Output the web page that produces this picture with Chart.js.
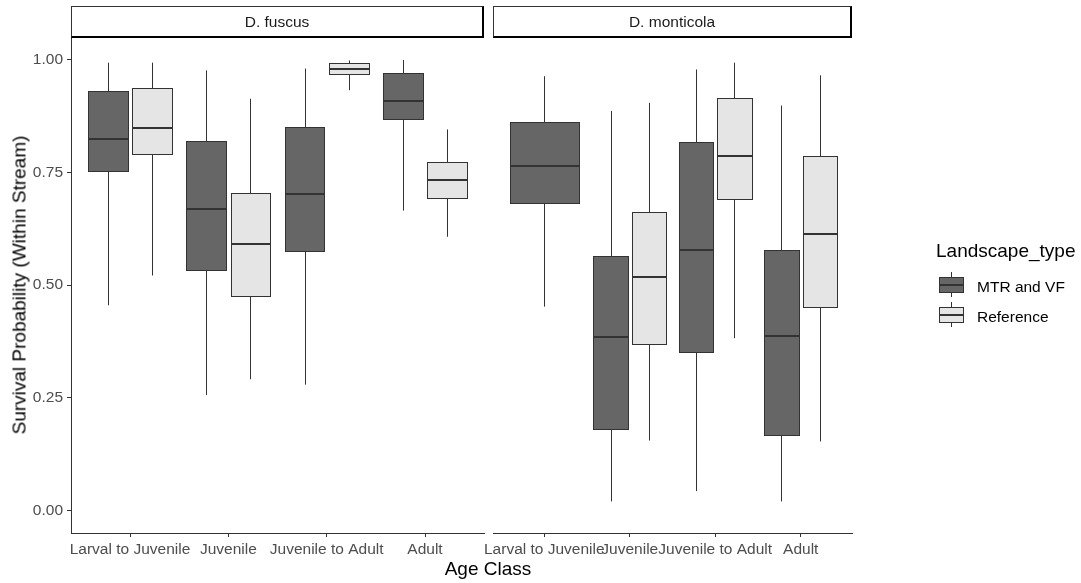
<!DOCTYPE html>
<html>
<head>
<meta charset="utf-8">
<script src="https://cdn.jsdelivr.net/npm/chart.js@4.4.1/dist/chart.umd.min.js"></script>
<style>
  body { margin:0; background:#fff; font-family:"Liberation Sans", Arial, sans-serif; }
  #wrap { position:relative; width:1081px; height:583px; overflow:hidden; }
  canvas { position:absolute; left:0; top:0; }
  .strip { position:absolute; top:6px; height:29px; border:1px solid #333; border-right:2px solid #000; border-bottom:2px solid #000;
           text-align:center; font-size:15.5px; line-height:29px; color:#1a1a1a; }
  .ytitle { position:absolute; left:19px; top:285px; transform:translate(-50%,-50%) rotate(-90deg);
            white-space:nowrap; font-size:19px; line-height:19px; color:#000; }
  .xtitle { position:absolute; left:488px; top:559px; transform:translateX(-50%); white-space:nowrap;
            font-size:19px; line-height:19px; color:#000; }
  .ltitle { position:absolute; left:936px; top:241px; font-size:19px; line-height:19px; color:#000; white-space:nowrap; }
  .llabel { position:absolute; left:977px; font-size:15.5px; line-height:15.5px; color:#000; white-space:nowrap; }
  .key { position:absolute; left:939px; width:25px; height:25px; }
  .key .wh { position:absolute; left:12px; top:0; width:1px; height:25px; background:#333; }
  .key .bx { position:absolute; left:0; top:5px; width:23px; height:14px; border:1px solid #333; }
  .key .md { position:absolute; left:0; top:12px; width:25px; height:2px; background:#333; }
</style>
</head>
<body>
<div id="wrap">
  <canvas id="cFuscus" width="1081" height="583"></canvas>
  <canvas id="cMonticola" width="1081" height="583"></canvas>
  <div class="strip" id="sFuscus" style="left:71px;width:410px;"></div>
  <div class="strip" id="sMonticola" style="left:493px;width:356px;"></div>
  <div class="ytitle">Survival Probability (Within Stream)</div>
  <div class="xtitle">Age Class</div>
  <div class="ltitle">Landscape_type</div>
  <div class="key" style="top:272px;"><div class="wh"></div><div class="bx" style="background:#666666;"></div><div class="md"></div></div>
  <div class="key" style="top:302px;"><div class="wh"></div><div class="bx" style="background:#e5e5e5;"></div><div class="md"></div></div>
  <div class="llabel" id="lab0" style="top:278.5px;"></div>
  <div class="llabel" id="lab1" style="top:309px;"></div>
</div>
<script>
// ==== データ ====
const categories = ['Larval to Juvenile', 'Juvenile', 'Juvenile to Adult', 'Adult'];
const species = ['D. fuscus', 'D. monticola'];
const landscapeTypes = ['MTR and VF', 'Reference'];
const yTicks = [0, 0.25, 0.5, 0.75, 1];

// 各年齢クラスの [下ひげ, Q1, 中央値, Q3, 上ひげ]
const fuscusMTR = [
  [0.455, 0.752, 0.824, 0.930, 0.993],
  [0.256, 0.534, 0.668, 0.820, 0.976],
  [0.279, 0.576, 0.701, 0.850, 0.980],
  [0.665, 0.868, 0.907, 0.971, 0.999]
];
const fuscusRef = [
  [0.521, 0.790, 0.849, 0.936, 0.993],
  [0.291, 0.476, 0.591, 0.703, 0.913],
  [0.932, 0.967, 0.978, 0.992, 0.998],
  [0.607, 0.693, 0.733, 0.773, 0.845]
];
const monticolaMTR = [
  [0.452, 0.681, 0.763, 0.862, 0.963],
  [0.020, 0.180, 0.385, 0.564, 0.886],
  [0.043, 0.351, 0.577, 0.817, 0.978],
  [0.020, 0.167, 0.388, 0.578, 0.898]
];
const monticolaRef = [
  null,
  [0.155, 0.369, 0.518, 0.662, 0.904],
  [0.382, 0.690, 0.787, 0.915, 0.993],
  [0.153, 0.452, 0.612, 0.786, 0.965]
];

/* ===== 見た目 ===== */
const FILLS = ['#666666', '#e5e5e5'];
const LINE = '#333333';
const FONT = '"Liberation Sans", Arial, sans-serif';
const GROUP_W = 0.9;   // ggplot の箱の幅
const DODGE_PAD = 0.1; // dodge2 の padding

document.getElementById('sFuscus').textContent = species[0];
document.getElementById('sMonticola').textContent = species[1];
document.getElementById('lab0').textContent = landscapeTypes[0];
document.getElementById('lab1').textContent = landscapeTypes[1];

// dodge2 っぽく箱を並べる
function layoutBoxes(seriesList){
  const boxes = [];
  categories.forEach((_, ci) => {
    const present = seriesList.map((s, si) => s[ci] ? si : -1).filter(si => si >= 0);
    const slot = GROUP_W / present.length;
    present.forEach((si, k) => {
      const st = seriesList[si][ci];
      boxes.push({
        x: ci + 1 - GROUP_W / 2 + slot * (k + 0.5),
        w: slot * (1 - DODGE_PAD),
        fill: FILLS[si],
        lo: st[0], q1: st[1], med: st[2], q3: st[3], hi: st[4]
      });
    });
  });
  return boxes;
}

// 箱ひげ描画プラグイン（スケール経由で座標を出す）
function boxPlugin(boxes){
  return {
    id: 'boxplot',
    afterDatasetsDraw(chart){
      const ctx = chart.ctx;
      const xs = chart.scales.x, ys = chart.scales.y;
      const snap = v => Math.round(v) + 0.5;
      ctx.save();
      boxes.forEach(b => {
        const cx = snap(xs.getPixelForValue(b.x));
        const left = snap(xs.getPixelForValue(b.x - b.w / 2));
        const right = snap(xs.getPixelForValue(b.x + b.w / 2));
        const yLo = ys.getPixelForValue(b.lo), yHi = ys.getPixelForValue(b.hi);
        const yQ1 = snap(ys.getPixelForValue(b.q1)), yQ3 = snap(ys.getPixelForValue(b.q3));
        const yMed = Math.round(ys.getPixelForValue(b.med));
        // ひげ
        ctx.strokeStyle = LINE;
        ctx.lineWidth = 1;
        ctx.beginPath();
        ctx.moveTo(cx, yHi); ctx.lineTo(cx, yQ3);
        ctx.moveTo(cx, yQ1); ctx.lineTo(cx, yLo);
        ctx.stroke();
        // 箱
        ctx.fillStyle = b.fill;
        ctx.fillRect(left, yQ3, right - left, yQ1 - yQ3);
        ctx.strokeRect(left, yQ3, right - left, yQ1 - yQ3);
        // 中央値
        ctx.lineWidth = 2;
        ctx.beginPath();
        ctx.moveTo(left, yMed); ctx.lineTo(right, yMed);
        ctx.stroke();
      });
      ctx.restore();
    }
  };
}

function makeChart(id, boxes, pad, showY){
  const tickFont = { family: FONT, size: 15.5 };
  return new Chart(document.getElementById(id), {
    type: 'scatter',
    data: { datasets: [] },
    options: {
      responsive: false,
      animation: false,
      events: [],
      layout: { padding: pad },
      plugins: { legend: { display: false }, tooltip: { enabled: false } },
      scales: {
        x: {
          type: 'linear', min: 0.4, max: 4.6,
          afterBuildTicks: s => { s.ticks = categories.map((c, i) => ({ value: i + 1 })); },
          afterFit: s => { s.height = 40; },
          ticks: { callback: v => categories[v - 1], color: '#4d4d4d', font: tickFont, padding: 3, maxRotation: 0, autoSkip: false },
          grid: { drawOnChartArea: false, drawTicks: true, tickLength: 4, color: LINE },
          border: { display: true, color: LINE, width: 1 }
        },
        y: {
          display: showY,
          min: -0.05, max: 1.05,
          afterBuildTicks: s => { s.ticks = yTicks.map(v => ({ value: v })); },
          afterFit: s => { s.width = showY ? 71 : 0; },
          ticks: { callback: v => v.toFixed(2), color: '#4d4d4d', font: tickFont, padding: 4 },
          grid: { drawOnChartArea: false, drawTicks: true, tickLength: 4, color: LINE },
          border: { display: true, color: LINE, width: 1 }
        }
      }
    },
    plugins: [boxPlugin(boxes)]
  });
}

makeChart('cFuscus', layoutBoxes([fuscusMTR, fuscusRef]), { left: 0, top: 37, right: 597, bottom: 10 }, true);
makeChart('cMonticola', layoutBoxes([monticolaMTR, monticolaRef]), { left: 493, top: 37, right: 229, bottom: 10 }, false);
</script>
</body>
</html>
